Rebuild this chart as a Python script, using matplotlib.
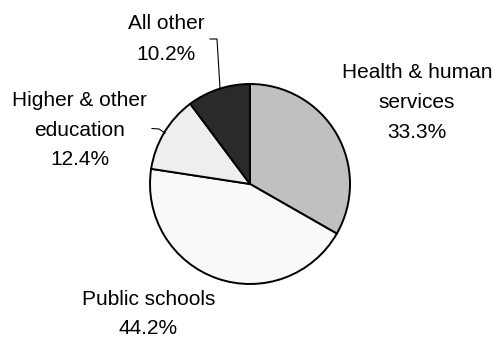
import matplotlib
matplotlib.use("Agg")
import matplotlib.pyplot as plt

# --> Data
categories = ["Health & human\nservices", "Public schools", "Higher & other\neducation", "All other"]
shares = [33.3, 44.2, 12.4, 10.2]
colors = ["#c0c0c0", "#f9f9f9", "#eeeeee", "#2a2a2a"]

plt.rcParams["font.family"] = ["Liberation Sans", "DejaVu Sans"]

W, H = 493, 339
fig = plt.figure(figsize=(W / 100, H / 100), dpi=100)
ax = fig.add_axes([0, 0, 1, 1])

cx, cy, r = 250, H - 184, 100
ax.pie(shares, colors=colors, startangle=90, counterclock=False,
       center=(cx, cy), radius=r, frame=True,
       wedgeprops=dict(edgecolor="black", linewidth=1.4))
ax.set_xlim(0, W)
ax.set_ylim(0, H)
ax.set_aspect("equal")
ax.axis("off")

# --> Labels (x centre, baseline of first line in pixels from top, line gap)
label_pos = [(417, 78, 30), (148.5, 305, 28.5), (79.5, 106, 29.5), (166.5, 29, 31)]
for name, val, (x, y, gap) in zip(categories, shares, label_pos):
    lines = name.split("\n") + [f"{val:.1f}%"]
    for i, line in enumerate(lines):
        ax.text(x, H - (y + i * gap), line, ha="center", va="baseline",
                fontsize=15)

# --> Leader lines
ax.plot([210, 217, 220], [H - 39, H - 39, H - 88], color="black", lw=0.8)
ax.plot([152, 159, 165], [H - 128.5, H - 129, H - 133], color="black", lw=0.8)

fig.savefig("out.png", dpi=100)
